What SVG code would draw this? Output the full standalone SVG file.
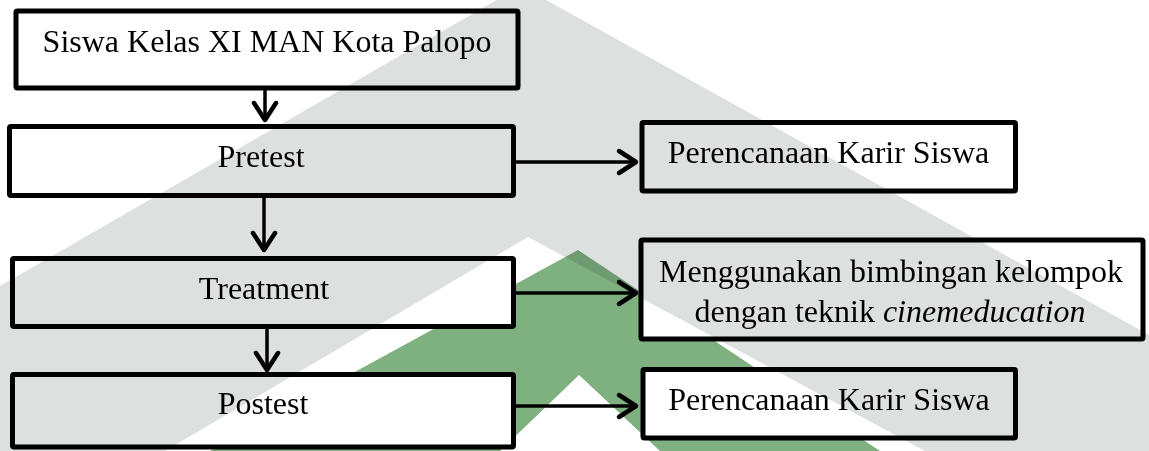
<svg xmlns="http://www.w3.org/2000/svg" width="1149" height="451" viewBox="0 0 1149 451">
  <style>
    .box { fill: #ffffff; stroke: #000; stroke-width: 5; }
    .lbl { font-family: "Liberation Serif", "Times New Roman", serif; font-size: 32px; fill: #000; text-anchor: middle; }
    .ln { stroke: #000; stroke-width: 3.5; fill: none; }
    .hd { stroke: #000; stroke-width: 4.5; fill: none; stroke-linecap: round; stroke-linejoin: round; }
    .wm-gray { fill: #dce1df; fill-rule: evenodd; mix-blend-mode: multiply; }
  </style>
  <rect x="0" y="0" width="1149" height="451" fill="#ffffff"/>
  <g id="watermark-green">
    <path d="M578,250 L210,451 L880,451 Z M579,375 L500,451 L660,451 Z" fill="#7fb07f" fill-rule="evenodd"/>
  </g>
  <g id="connectors">
    <line class="ln" x1="265" y1="88" x2="265" y2="120"/>
    <polyline class="hd" points="254,103 265,120 276,103"/>
    <line class="ln" x1="513.5" y1="162" x2="636" y2="162"/>
    <polyline class="hd" points="619,151 636,162 619,173"/>
    <line class="ln" x1="264" y1="195.5" x2="264" y2="250"/>
    <polyline class="hd" points="253,233 264,250 275,233"/>
    <line class="ln" x1="513.5" y1="293" x2="636" y2="293"/>
    <polyline class="hd" points="619,282 636,293 619,304"/>
    <line class="ln" x1="267" y1="326.5" x2="267" y2="370"/>
    <polyline class="hd" points="256,353 267,370 278,353"/>
    <line class="ln" x1="513.5" y1="406" x2="636" y2="406"/>
    <polyline class="hd" points="619,395 636,406 619,417"/>
  </g>
  <g id="n1">
    <rect class="box" x="16" y="11" width="502" height="77" rx="1.5"/>
    <text class="lbl" x="267" y="52">Siswa Kelas XI MAN Kota Palopo</text>
  </g>
  <g id="n2">
    <rect class="box" x="9.5" y="126.5" width="504" height="69" rx="1.5"/>
    <text class="lbl" x="261" y="167">Pretest</text>
  </g>
  <g id="n3">
    <rect class="box" x="642" y="122.5" width="373.5" height="68.5" rx="1.5"/>
    <text class="lbl" x="828.5" y="163">Perencanaan Karir Siswa</text>
  </g>
  <g id="n4">
    <rect class="box" x="12.5" y="258.5" width="501" height="68" rx="1.5"/>
    <text class="lbl" x="264" y="299">Treatment</text>
  </g>
  <g id="n5">
    <rect class="box" x="641" y="240" width="502" height="99" rx="1.5"/>
    <text class="lbl" x="891" y="282">Menggunakan bimbingan kelompok</text>
    <text class="lbl" x="890" y="322">dengan teknik <tspan font-style="italic">cinemeducation</tspan></text>
  </g>
  <g id="n6">
    <rect class="box" x="12.5" y="374.5" width="501" height="72.5" rx="1.5"/>
    <text class="lbl" x="263" y="414">Postest</text>
  </g>
  <g id="n7">
    <rect class="box" x="643" y="369.5" width="372.5" height="68.5" rx="1.5"/>
    <text class="lbl" x="829" y="410">Perencanaan Karir Siswa</text>
  </g>
  <g id="watermark-gray">
    <path class="wm-gray" d="M521,-14 L0,286 L0,451 L1149,451 L1149,335 Z M528,237 L165,451 L925,451 Z"/>
  </g>
</svg>
